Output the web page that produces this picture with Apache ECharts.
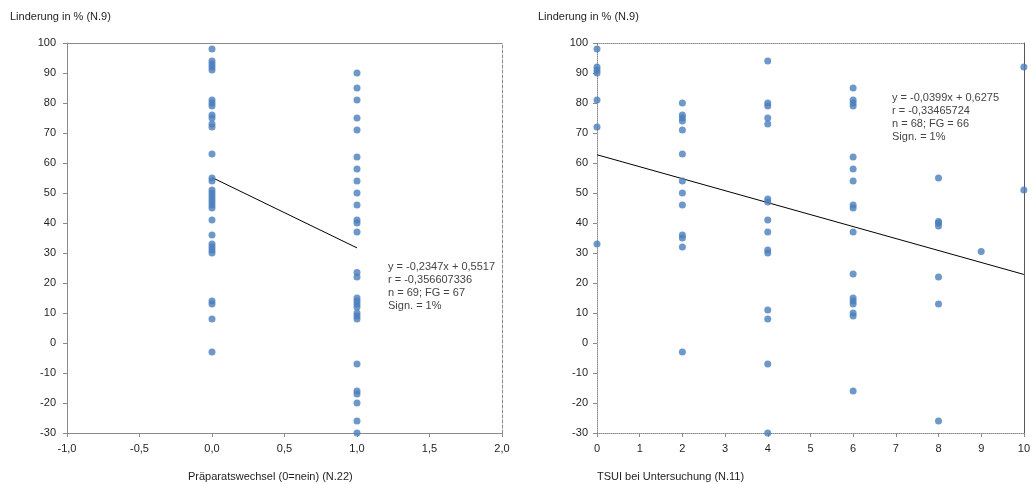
<!DOCTYPE html>
<html><head><meta charset="utf-8">
<script src="https://cdn.jsdelivr.net/npm/echarts/dist/echarts.min.js"></script>
<style>html,body{margin:0;padding:0;background:#fff}#c{width:1033px;height:484px}</style>
</head><body><div id="c"></div>
<script>
// ---- data ----
const yTitle = 'Linderung in % (N.9)';
const leftXTitle = 'Präparatswechsel (0=nein) (N.22)';
const rightXTitle = 'TSUI bei Untersuchung (N.11)';
const leftXLabels = ['-1,0','-0,5','0,0','0,5','1,0','1,5','2,0'];
const rightXLabels = ['0','1','2','3','4','5','6','7','8','9','10'];
const yLabels = ['-30','-20','-10','0','10','20','30','40','50','60','70','80','90','100'];

// left chart: Präparatswechsel 0 / 1
const leftAt0 = [98,94,93,92,91,81,80,79,76,75,73,72,63,55,54,51,50,49,48,47,46,45,41,36,33,32,31,30,14,13,8,-3];
const leftAt1 = [90,85,81,75,71,62,58,54,50,46,41,40,37,23.5,22,15,14,13,12,10,9,8,-7,-16,-17,-20,-26,-30];
const leftFit = [-0.2347, 0.5517]; // slope, intercept (fraction)
const leftFitRange = [0, 1];
const leftStats = ['y = -0,2347x + 0,5517','r = -0,356607336','n = 69; FG = 67','Sign. = 1%'];

// right chart: TSUI
const rightAt0 = [98,92,91,90,81,72,33];
const rightAt2 = [80,76,75,74,71,63,54,50,46,36,35,32,-3];
const rightAt4 = [94,80,79,75,73,48,47,41,37,31,30,11,8,-7,-30];
const rightAt6 = [85,81,80,79,62,58,54,46,45,37,23,15,14,13,10,9,-16];
const rightAt8 = [55,40.5,40,39,22,13,-26];
const rightAt9 = [30.5];
const rightAt10 = [92,51];
const rightFit = [-0.0399, 0.6275];
const rightFitRange = [0, 10];
const rightStats = ['y = -0,0399x + 0,6275','r = -0,33465724','n = 68; FG = 66','Sign. = 1%'];

// ---- build ----
const pts = (x, arr) => arr.map(v => [x, v]);
const leftPoints = [].concat(pts(0, leftAt0), pts(1, leftAt1));
const rightPoints = [].concat(pts(0, rightAt0), pts(2, rightAt2), pts(4, rightAt4), pts(6, rightAt6),
  pts(8, rightAt8), pts(9, rightAt9), pts(10, rightAt10));
const fitLine = (fit, range) => range.map(x => [x, (fit[0] * x + fit[1]) * 100]);

const FONT = 'Liberation Sans, Arial, sans-serif';
const TXT = '#1e1e1e';
const AX = '#8a8a8a';
const lbl = (extra) => Object.assign({fontFamily: FONT, fontSize: 11, color: TXT}, extra);

const chart = echarts.init(document.getElementById('c'), null, {renderer: 'canvas'});

function xAxes(grid, min, max, interval, labels, lineType, topType) {
  return [
    {gridIndex: grid, type: 'value', min, max, interval, position: 'bottom',
     axisLine: {onZero: false, lineStyle: {color: AX, width: 1, type: lineType}},
     axisTick: {show: true, length: 4, inside: false, lineStyle: {color: AX}},
     axisLabel: lbl({margin: 10, formatter: v => labels[Math.round((v - min) / interval)]}),
     splitLine: {show: false}},
    {gridIndex: grid, type: 'value', min, max, interval, position: 'top',
     axisLine: {onZero: false, lineStyle: {color: AX, width: 1, type: topType}},
     axisTick: {show: false}, axisLabel: {show: false}, splitLine: {show: false}}
  ];
}
function yAxes(grid, lineType, rightColor, rightType, margin) {
  return [
    {gridIndex: grid, type: 'value', min: -30, max: 100, interval: 10, position: 'left',
     axisLine: {onZero: false, lineStyle: {color: AX, width: 1, type: lineType}},
     axisTick: {show: true, length: 4, lineStyle: {color: AX}},
     axisLabel: lbl({margin, formatter: v => yLabels[Math.round((v + 30) / 10)]}),
     splitLine: {show: false}},
    {gridIndex: grid, type: 'value', min: -30, max: 100, interval: 10, position: 'right',
     axisLine: {onZero: false, lineStyle: {color: rightColor, width: 1, type: rightType}},
     axisTick: {show: false}, axisLabel: {show: false}, splitLine: {show: false}}
  ];
}

const dot = {color: '#4a7ebb'};
const statsText = (lines, left, top) => ({
  type: 'text', left, top,
  style: {text: lines.join('\n'), font: '11px ' + FONT, fill: '#444', lineHeight: 13}
});

chart.setOption({
  animation: false,
  backgroundColor: '#fff',
  grid: [
    {left: 67, right: 531, top: 43, bottom: 51},
    {left: 597, right: 4, top: 43, bottom: 51}
  ],
  xAxis: [].concat(
    xAxes(0, -1, 2, 0.5, leftXLabels, 'solid', 'solid'),
    xAxes(1, 0, 10, 1, rightXLabels, [1, 1], [1, 1])
  ),
  yAxis: [].concat(
    yAxes(0, 'solid', AX, [3, 2], 11),
    yAxes(1, [1, 1], '#555', 'solid', 9)
  ),
  series: [
    {type: 'line', xAxisIndex: 0, yAxisIndex: 0, data: fitLine(leftFit, leftFitRange),
     showSymbol: false, symbol: 'none', lineStyle: {color: '#000', width: 1}, z: 1},
    {type: 'scatter', xAxisIndex: 0, yAxisIndex: 0, data: leftPoints, symbolSize: 7,
     itemStyle: dot, z: 2},
    {type: 'line', xAxisIndex: 2, yAxisIndex: 2, data: fitLine(rightFit, rightFitRange),
     showSymbol: false, symbol: 'none', lineStyle: {color: '#000', width: 1}, z: 1},
    {type: 'scatter', xAxisIndex: 2, yAxisIndex: 2, data: rightPoints, symbolSize: 7,
     itemStyle: dot, z: 2}
  ],
  graphic: [
    {type: 'text', left: 10, top: 11, style: {text: yTitle, font: '11px ' + FONT, fill: TXT}},
    {type: 'text', left: 538, top: 11, style: {text: yTitle, font: '11px ' + FONT, fill: TXT}},
    {type: 'text', left: 188, top: 471, style: {text: leftXTitle, font: '11px ' + FONT, fill: TXT}},
    {type: 'text', left: 597, top: 471, style: {text: rightXTitle, font: '11px ' + FONT, fill: TXT}},
    statsText(leftStats, 388, 260),
    statsText(rightStats, 892, 91)
  ]
});
</script></body></html>
